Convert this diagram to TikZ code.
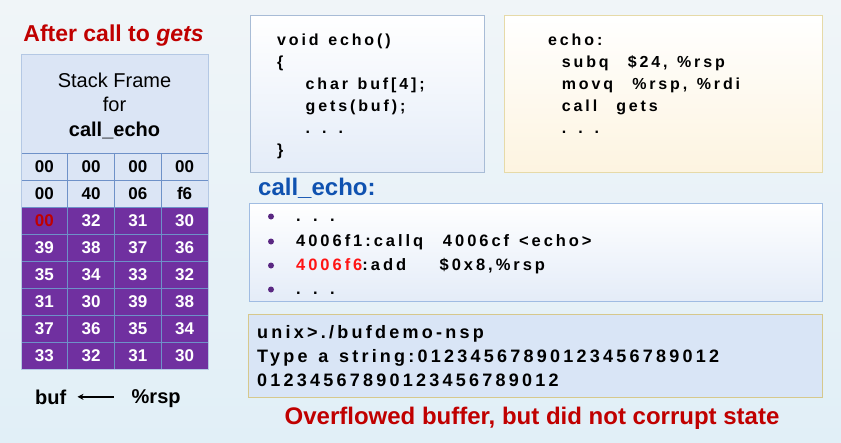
\documentclass[tikz,border=0pt]{standalone}
\usepackage{fontspec}
\setmainfont{Liberation Sans}
\newfontfamily\codefont[LetterSpace=18,WordSpace=1.3]{Liberation Sans}
\usetikzlibrary{arrows.meta}

\definecolor{titlered}{RGB}{192,0,0}
\definecolor{labelblue}{RGB}{16,82,176}
\definecolor{stackpurple}{RGB}{112,48,160}
\definecolor{cellblue}{RGB}{219,229,245}
\definecolor{gridblue}{RGB}{110,145,200}
\definecolor{frameblue}{RGB}{180,200,228}
\definecolor{addrred}{RGB}{255,20,20}
\definecolor{dotpurple}{RGB}{90,40,130}
\definecolor{termfill}{RGB}{217,229,246}
\definecolor{termedge}{RGB}{214,200,140}
\definecolor{srcedge}{RGB}{168,188,214}
\definecolor{srcbottom}{RGB}{228,236,248}
\definecolor{asmedge}{RGB}{230,218,168}
\definecolor{asmbottom}{RGB}{253,244,224}
\definecolor{dumpedge}{RGB}{160,188,226}

\begin{document}
\begin{tikzpicture}[x=1pt, y=-1pt,
    cell/.style={inner sep=0pt, font=\bfseries\fontsize{17}{17}\selectfont},
    codeline/.style={anchor=base west, inner sep=0pt, font=\codefont\bfseries\fontsize{16}{16}\selectfont},
    termline/.style={codeline, font=\codefont\bfseries\fontsize{18}{18}\selectfont},
    gridline/.style={gridblue, line width=0.6pt},
    dotmark/.style={circle, fill=dotpurple, inner sep=0pt, minimum size=6pt}]
    % Canvas
    \shade[top color={rgb,255:red,240;green,245;blue,248}, middle color=white,
           bottom color={rgb,255:red,225;green,239;blue,247}] (0,0) rectangle (841,442);
    \useasboundingbox (0,0) rectangle (841,442);

    % Title
    \node[anchor=base, text=titlered, font=\bfseries\fontsize{23}{23}\selectfont] (title) at (113.5,41.7) {After call to \textit{gets}};

    % Stack frame of call_echo
    \fill[cellblue] (21,54) rectangle (208,153);
    \node[anchor=base, font=\fontsize{20}{20}\selectfont] (hd1) at (114.5,87.3) {Stack Frame};
    \node[anchor=base, font=\fontsize{20}{20}\selectfont] (hd2) at (114.5,111.7) {for};
    \node[anchor=base, font=\bfseries\fontsize{20}{20}\selectfont] (hd3) at (114.5,136.7) {call\_echo};

    % Rows of bytes
    \foreach \r/\fillc/\txt/\a/\b/\c/\d in {1/cellblue/black/00/00/00/00, 2/cellblue/black/00/40/06/f6,
        3/stackpurple/white/{\textcolor{titlered}{00}}/32/31/30, 4/stackpurple/white/39/38/37/36,
        5/stackpurple/white/35/34/33/32, 6/stackpurple/white/31/30/39/38,
        7/stackpurple/white/37/36/35/34, 8/stackpurple/white/33/32/31/30}
    {
        \fill[\fillc] (21,{153+27*(\r-1)}) rectangle (208,{180+27*(\r-1)});
        \foreach \v [count=\k] in {\a,\b,\c,\d}
            \node[cell, text=\txt] (c-\r-\k) at ({21+46.75*(\k-0.5)},{166.5+27*(\r-1)}) {\v};
    }
    \foreach \r in {0,...,8}
        \draw[gridline] (21,{153+27*\r}) -- (208,{153+27*\r});
    \foreach \k in {1,2,3}
        \draw[gridline] ({21+46.75*\k},153) -- ({21+46.75*\k},369);
    \draw[frameblue, line width=0.8pt] (21,54) rectangle (208,369);

    % buf <-- %rsp
    \node[anchor=base west, inner sep=0pt, font=\bfseries\fontsize{20}{20}\selectfont] (buf) at (35,404) {buf};
    \node[anchor=base west, inner sep=0pt, font=\bfseries\fontsize{20}{20}\selectfont] (rsp) at (131.5,403) {\%rsp};
    \draw[-{Stealth[length=6pt,width=6pt]}, line width=1.6pt, shorten <=18pt, shorten >=11pt]
        (rsp.west |- buf.east) -- (buf.east);

    % C source
    \node[draw=srcedge, top color=white, bottom color=srcbottom, minimum width=234pt, minimum height=157pt] (src) at (367,93.5) {};
    \node[codeline] (src1) at (277,45) {void echo()};
    \node[codeline] (src2) at (277,67) {\{};
    \node[codeline] (src3) at (305.5,89.5) {char buf[4];};
    \node[codeline] (src4) at (305.5,111.5) {gets(buf);};
    \node[codeline] (src5) at (305.5,133.5) {. . .};
    \node[codeline] (src6) at (277,155.5) {\}};

    % Assembly of echo
    \node[draw=asmedge, top color=white, bottom color=asmbottom, minimum width=318pt, minimum height=157pt] (asm) at (663,93.5) {};
    \node[codeline] (asm1) at (548,45.5) {echo:};
    \node[codeline] (asm2) at (561.7,67.5) {subq\ \ \$24, \%rsp};
    \node[codeline] (asm3) at (561.7,89.5) {movq\ \ \%rsp, \%rdi};
    \node[codeline] (asm4) at (561.7,111.5) {call\ \ gets};
    \node[codeline] (asm5) at (561.7,133.5) {. . .};

    % Disassembly of call_echo
    \node[anchor=base west, inner sep=0pt, text=labelblue, font=\bfseries\fontsize{24}{24}\selectfont] (calltag) at (258,195) {call\_echo:};
    \node[draw=dumpedge, top color=white, middle color=white, bottom color=srcbottom, minimum width=573pt, minimum height=98pt] (dump) at (535.5,252) {};
    \foreach \y [count=\n] in {221.5,246.5,270.5,294.5}
        \node[dotmark] (dot\n) at (271,\y-5) {};
    \node[codeline, font=\codefont\bfseries\fontsize{16.5}{16.5}\selectfont] (dump1) at (296,221.5) {. . .};
    \node[codeline, font=\codefont\bfseries\fontsize{16.5}{16.5}\selectfont] (dump2) at (296,246.5) {4006f1:callq\ \ 4006cf <echo>};
    \node[codeline, font=\codefont\bfseries\fontsize{16.5}{16.5}\selectfont] (dump3) at (296,270.5) {\textcolor{addrred}{4006f6}:add\ \ \ \hspace{4pt}\$0x8,\%rsp};
    \node[codeline, font=\codefont\bfseries\fontsize{16.5}{16.5}\selectfont] (dump4) at (296,294.5) {. . .};

    % Terminal session
    \node[draw=termedge, fill=termfill, minimum width=574pt, minimum height=83pt] (term) at (535,355.5) {};
    \node[termline] (term1) at (257,338) {unix>./bufdemo-nsp};
    \node[termline] (term2) at (257,362.5) {Type a string:01234567890123456789012};
    \node[termline] (term3) at (257,386.5) {01234567890123456789012};

    \node[anchor=base, text=titlered, font=\bfseries\fontsize{24}{24}\selectfont] (verdict) at (532,424) {Overflowed buffer, but did not corrupt state};
\end{tikzpicture}
\end{document}
